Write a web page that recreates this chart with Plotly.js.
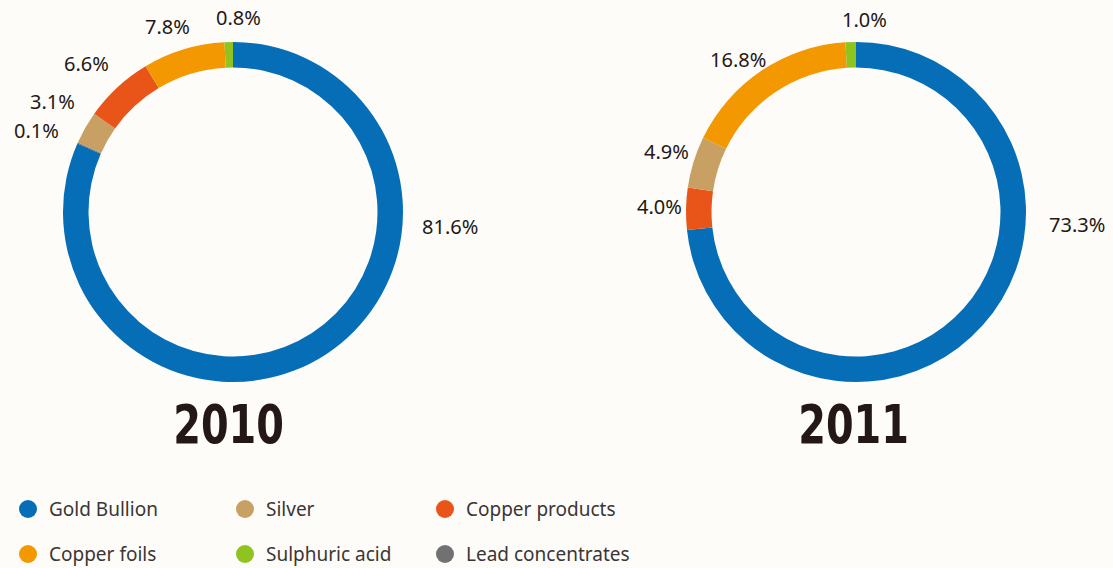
<!DOCTYPE html>
<html>
<head>
<meta charset="utf-8">
<script src="https://cdn.plot.ly/plotly-3.0.1.min.js"></script>
<style>html,body{margin:0;padding:0;background:#fdfcf9;}#chart{width:1113px;height:568px;}</style>
</head>
<body>
<div id="chart"></div>
<script>
// ---- data ----
const years = ['2010', '2011'];
const labels2010 = ['Gold Bullion', 'Lead concentrates', 'Silver', 'Copper products', 'Copper foils', 'Sulphuric acid'];
const values2010 = [81.6, 0.1, 3.1, 6.6, 7.8, 0.8];
const labels2011 = ['Gold Bullion', 'Copper products', 'Silver', 'Copper foils', 'Sulphuric acid'];
const values2011 = [73.3, 4.0, 4.9, 16.8, 1.0];
const legendLabels = ['Gold Bullion', 'Silver', 'Copper products', 'Copper foils', 'Sulphuric acid', 'Lead concentrates'];

// ---- styles ----
const colorMap = {
  'Gold Bullion': '#066eb7',
  'Silver': '#c9a063',
  'Copper products': '#e95518',
  'Copper foils': '#f39800',
  'Sulphuric acid': '#8fc31f',
  'Lead concentrates': '#727171'
};
const W = 1113, H = 568;
const textColor = '#231815';
const font = '"Noto Sans", "Open Sans", sans-serif';

function px2x(x) { return x / W; }
function px2y(y) { return 1 - y / H; }

const R = 170;
const centers = [[233, 212], [856, 212]];
function domainFor(c) {
  return {
    x: [px2x(c[0] - R), px2x(c[0] + R)],
    y: [px2y(c[1] + R), px2y(c[1] - R)]
  };
}

const traces = [
  {labels: labels2010, values: values2010},
  {labels: labels2011, values: values2011}
].map((d, i) => ({
  type: 'pie',
  labels: d.labels,
  values: d.values,
  hole: 0.85,
  sort: false,
  direction: 'clockwise',
  rotation: 0,
  textinfo: 'none',
  hoverinfo: 'label+percent',
  showlegend: false,
  domain: domainFor(centers[i]),
  marker: {colors: d.labels.map(l => colorMap[l]), line: {width: 0}}
}));

// label positions (pixel centres) for each slice
const labelPos2010 = [[450, 226], [36, 131], [52, 102], [86, 64], [167, 26], [238, 17]];
const labelPos2011 = [[1077, 225], [659, 206], [666, 151], [738, 59], [864, 19]];

const annotations = [];
function addLabels(values, pos) {
  values.forEach((v, i) => {
    annotations.push({
      xref: 'paper', yref: 'paper',
      x: px2x(pos[i][0]), y: px2y(pos[i][1]),
      xanchor: 'center', yanchor: 'middle',
      text: v.toFixed(1) + '%', showarrow: false,
      font: {family: font, size: 20, color: textColor}
    });
  });
}
addLabels(values2010, labelPos2010);
addLabels(values2011, labelPos2011);

// year titles
const yearPos = [[228, 425], [853, 425]];
const yearIdx = [];
years.forEach((y, i) => {
  yearIdx.push(annotations.length);
  annotations.push({
    xref: 'paper', yref: 'paper',
    x: px2x(yearPos[i][0]), y: px2y(yearPos[i][1]),
    xanchor: 'center', yanchor: 'middle',
    text: '<b>' + y + '</b>', showarrow: false,
    font: {family: '"DejaVu Sans Condensed", "DejaVu Sans", sans-serif', size: 54, color: textColor}
  });
});

// legend (manual, 3 columns x 2 rows)
const shapes = [];
const legCols = [28, 245, 445];
const legRows = [509, 554];
const mr = 9;
legendLabels.forEach((l, i) => {
  const cx = legCols[i % 3], cy = legRows[Math.floor(i / 3)];
  shapes.push({
    type: 'circle', xref: 'paper', yref: 'paper',
    x0: px2x(cx - mr), x1: px2x(cx + mr), y0: px2y(cy + mr), y1: px2y(cy - mr),
    fillcolor: colorMap[l], line: {width: 0}
  });
  annotations.push({
    xref: 'paper', yref: 'paper',
    x: px2x(cx + 19), y: px2y(cy),
    xanchor: 'left', yanchor: 'middle',
    text: l, showarrow: false,
    font: {family: font, size: 19, color: '#3a3636'}
  });
});

const layout = {
  width: W, height: H,
  margin: {l: 0, r: 0, t: 0, b: 0},
  paper_bgcolor: '#fdfcf9',
  plot_bgcolor: '#fdfcf9',
  showlegend: false,
  annotations: annotations,
  shapes: shapes
};

Plotly.newPlot('chart', traces, layout, {displayModeBar: false, staticPlot: true}).then(gd => {
  // condense the bold year titles horizontally
  yearIdx.forEach(idx => {
    const g = gd.querySelector('.annotation[data-index="' + idx + '"] text.annotation-text');
    if (!g) return;
    const bb = g.getBBox();
    const cx = bb.x + bb.width / 2;
    g.setAttribute('transform', 'translate(' + cx + ',0) scale(0.82,1) translate(' + (-cx) + ',0)');
  });
});
</script>
</body>
</html>
